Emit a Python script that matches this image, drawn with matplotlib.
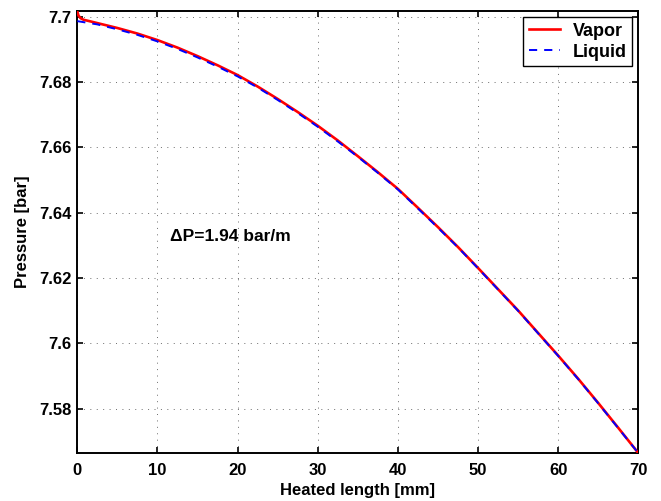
import matplotlib
matplotlib.use("Agg")
import matplotlib.pyplot as plt
from matplotlib.ticker import FuncFormatter

# ---- data ----
liquid_x = [0, 2.5, 5, 7.5, 10, 12.5, 15, 17.5, 20, 22.5, 25, 27.5, 30, 32.5, 35,
            37.5, 40, 42.5, 45, 47.5, 50, 52.5, 55, 57.5, 60, 62.5, 65, 67.5, 70]
liquid_p = [7.6986, 7.6976, 7.6961, 7.6944, 7.6924, 7.6901, 7.6875, 7.6847, 7.6817,
            7.6783, 7.6745, 7.6705, 7.6663, 7.6618, 7.6571, 7.6522, 7.6471, 7.6413,
            7.6354, 7.6294, 7.6230, 7.6165, 7.6100, 7.6031, 7.5962, 7.5891, 7.5817,
            7.5741, 7.5665]
vapor_x = [0, 0.15, 0.4, 0.8, 1.5, 2.5, 5, 7.5, 10, 12.5, 15, 17.5, 20, 22.5, 25,
           27.5, 30, 32.5, 35, 37.5, 40, 42.5, 45, 47.5, 50, 52.5, 55, 57.5, 60,
           62.5, 65, 67.5, 70]
vapor_p = [7.7015, 7.7003, 7.6995, 7.6990, 7.6986, 7.6980, 7.6965, 7.6948, 7.6928,
           7.6905, 7.6879, 7.6851, 7.6821, 7.6786, 7.6748, 7.6708, 7.6666, 7.6621,
           7.6573, 7.6524, 7.6473, 7.6415, 7.6356, 7.6295, 7.6231, 7.6166, 7.6101,
           7.6032, 7.5963, 7.5892, 7.5818, 7.5742, 7.5665]
x_ticks = [0, 10, 20, 30, 40, 50, 60, 70]
y_ticks = [7.58, 7.60, 7.62, 7.64, 7.66, 7.68, 7.70]
series_labels = ["Vapor", "Liquid"]
annotation = "\u0394P=1.94 bar/m"

plt.rcParams['font.family'] = ['Liberation Sans', 'DejaVu Sans']
plt.rcParams['font.weight'] = 'bold'

fig = plt.figure(figsize=(6.61, 5.01), dpi=100)
ax = fig.add_axes([77.3 / 661, 48 / 501, (638.3 - 77.3) / 661, (453 - 11) / 501])

ax.plot(vapor_x, vapor_p, color='red', lw=1.9, label=series_labels[0], zorder=3)
ax.plot(liquid_x, liquid_p, color='blue', lw=1.4, linestyle=(0, (4.2, 3.6)),
        label=series_labels[1], zorder=4)

ax.set_xlim(0, 70)
ax.set_ylim(7.5665, 7.7017)
ax.set_xticks(x_ticks)
ax.set_yticks(y_ticks)
ax.yaxis.set_major_formatter(FuncFormatter(lambda v, p: ('%g' % round(v, 4))))

ax.grid(True, color='0.35', lw=0.6, linestyle=(0, (1.2, 6.5)))
ax.set_axisbelow(True)

for s in ax.spines.values():
    s.set_linewidth(1.4)
ax.tick_params(direction='in', length=4, width=1.2, top=True, right=True,
               labelsize=12)
ax.tick_params(axis='x', pad=7)
ax.tick_params(axis='y', pad=4)
for lab in ax.get_xticklabels() + ax.get_yticklabels():
    lab.set_fontweight('bold')

ax.set_xlabel("Heated length [mm]", fontsize=12, fontweight='bold', labelpad=4)
ax.set_ylabel("Pressure [bar]", fontsize=12, fontweight='bold', labelpad=7)

ax.text(11.6, 7.6326, annotation, fontsize=12.5, fontweight='bold', va='center', ha='left')

h, l = ax.get_legend_handles_labels()
leg = ax.legend(h, l,
                loc='upper right', bbox_to_anchor=(0.9893, 0.9857),
                borderaxespad=0, fancybox=False, framealpha=1,
                edgecolor='black', fontsize=13, handlelength=1.75,
                handletextpad=0.7, borderpad=0.3, labelspacing=0.22)
leg.get_frame().set_linewidth(1.0)
for t in leg.get_texts():
    t.set_fontweight('bold')

fig.savefig("out.png", dpi=100)
